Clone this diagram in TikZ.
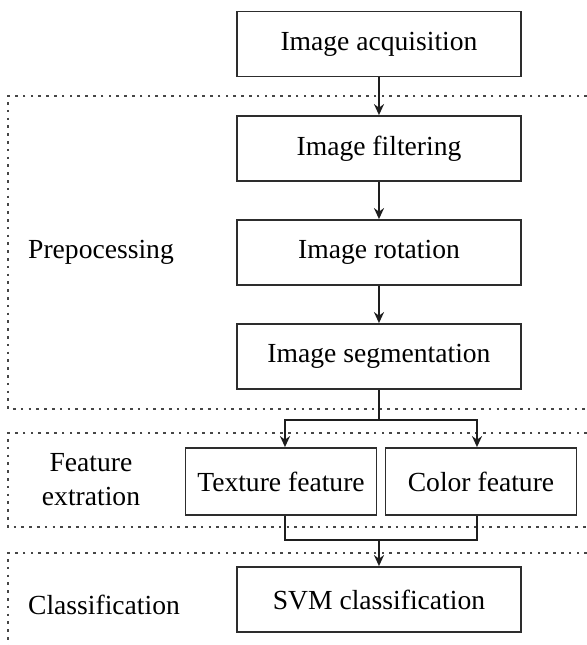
\documentclass[tikz,border=0pt]{standalone}
\usepackage{fontspec}
\setmainfont{Liberation Serif}
\usepackage{tikz}
\usetikzlibrary{arrows.meta}

\tikzset{
  stepbox/.style={draw={rgb, 255:red, 45; green, 45; blue, 45 }, line width=0.9pt, minimum width=142pt, minimum height=32.5pt, inner sep=0pt, font=\fontsize{13.8}{16}\selectfont},
  featbox/.style={stepbox, minimum width=95.5pt, minimum height=33.5pt},
  stagelabel/.style={align=center, font=\fontsize{13.8}{17}\selectfont},
  stageline/.style={draw={rgb, 255:red, 70; green, 70; blue, 70 }, line width=0.8pt, dash pattern=on 1.3pt off 2.6pt},
  flow/.style={draw={rgb, 255:red, 30; green, 30; blue, 30 }, line width=0.9pt},
  flowarrow/.style={flow, -{Stealth[length=5.5pt,width=5pt]}}
}

\begin{document}
\begin{tikzpicture}[x=0.5pt,y=0.5pt,yscale=-1,xscale=1]
  \useasboundingbox (0,0) rectangle (587,645);

  % stage frames (open to the right)
  \draw [stageline] (587,96) -- (8,96) -- (8,409) -- (587,409) ;
  \draw [stageline] (587,433) -- (8,433) -- (8,527) -- (587,527) ;
  \draw [stageline] (587,553) -- (8,553) -- (8,645) ;

  % steps
  \node [stepbox] (acq) at (379,44) {Image acquisition};
  \node [stepbox] (filt) at (379,148.5) {Image filtering};
  \node [stepbox] (rot) at (379,252.5) {Image rotation};
  \node [stepbox] (seg) at (379,356.5) {Image segmentation};
  \node [featbox] (tex) at (281,481.5) {Texture feature};
  \node [featbox] (col) at (481,481.5) {Color feature};
  \node [stepbox] (svm) at (379,599.5) {SVM classification};

  % stage names
  \node [stagelabel] (prep) at (101,252) {Prepocessing};
  \node [stagelabel] (feat) at (91,480) {Feature\\extration};
  \node [stagelabel] (cls) at (104,605) {Classification};

  \coordinate (split) at (379,420);
  \coordinate (join) at (379,540);

  % connectors
  \draw [flowarrow] (acq.south) -- (filt.north) ;
  \draw [flowarrow] (filt.south) -- (rot.north) ;
  \draw [flowarrow] (rot.south) -- (seg.north) ;
  \draw [flow] (seg.south) -- (split) ;
  \draw [flowarrow] (split) -| ([xshift=2pt]tex.north) ;
  \draw [flowarrow] (split) -| ([xshift=-2pt]col.north) ;
  \draw [flow] ([xshift=2pt]tex.south) |- (join) ;
  \draw [flow] ([xshift=-2pt]col.south) |- (join) ;
  \draw [flowarrow] (join) -- (svm.north) ;

\end{tikzpicture}
\end{document}
